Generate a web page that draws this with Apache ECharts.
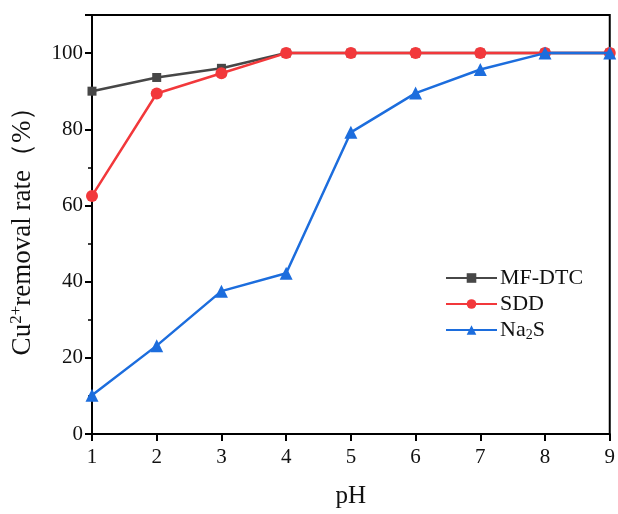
<!DOCTYPE html>
<html>
<head>
<meta charset="utf-8">
<script src="https://cdn.jsdelivr.net/npm/echarts@6/dist/echarts.min.js"></script>
<style>
  html, body { margin: 0; padding: 0; background: #fff; }
  #chart { width: 618px; height: 514px; }
</style>
</head>
<body>
<div id="chart"></div>
<script>
// pH values tested
const phValues = [1, 2, 3, 4, 5, 6, 7, 8, 9];
// Cu2+ removal rate (%) for each precipitant
const mfDtc = [90.0, 93.6, 96.0, 100, 100, 100, 100, 100, 100];
const sdd   = [62.5, 89.4, 94.7, 100, 100, 100, 100, 100, 100];
const na2s  = [10.2, 23.2, 37.5, 42.2, 79.2, 89.5, 95.7, 100, 100];

const seriesNames = ['MF-DTC', 'SDD', 'Na2S'];
const seriesData = [mfDtc, sdd, na2s];
const colors = ['#474747', '#f2383b', '#1c6ddd'];
const symbols = ['rect', 'circle', 'triangle'];
const symbolSizes = [9, 12, 13];

const font = '"Liberation Serif", "Times New Roman", serif';

const chart = echarts.init(document.getElementById('chart'), null, { renderer: 'canvas' });

chart.setOption({
  backgroundColor: '#fff',
  animation: false,
  grid: {
    left: 92, right: 6, top: 15, bottom: 80,
    show: true, borderColor: '#000', borderWidth: 2, backgroundColor: 'transparent'
  },
  legend: {
    left: 445, top: 267, orient: 'vertical', padding: 0,
    itemWidth: 51, itemHeight: 12, itemGap: 4,
    data: seriesNames,
    formatter: n => n === 'Na2S' ? 'Na{sub|2}S' : n,
    textStyle: {
      fontFamily: font, fontSize: 22, color: '#111', padding: [0, 0, 0, -2],
      rich: { sub: { fontFamily: font, fontSize: 14, color: '#111', verticalAlign: 'bottom', padding: [10, 0, 0, 0] } }
    }
  },
  xAxis: {
    type: 'value', min: 1, max: 9, interval: 1,
    name: 'pH', nameLocation: 'middle', nameGap: 50,
    nameTextStyle: { fontFamily: font, fontSize: 25, color: '#111' },
    axisLine: { lineStyle: { color: '#000', width: 2 } },
    axisTick: { inside: false, length: 7, lineStyle: { color: '#000', width: 2 } },
    axisLabel: { fontFamily: font, fontSize: 21, color: '#111', margin: 13 },
    splitLine: { show: false }
  },
  yAxis: {
    type: 'value', min: 0, max: 110, interval: 20,
    name: 'Cu{sup|2+}removal rate（%）', nameLocation: 'middle', nameGap: 55, nameRotate: 90,
    nameTextStyle: {
      fontFamily: font, fontSize: 27, color: '#111',
      rich: { sup: { fontFamily: font, fontSize: 17, color: '#111', verticalAlign: 'top', padding: [0, 0, 12, 0] } }
    },
    axisLine: { lineStyle: { color: '#000', width: 2 } },
    axisTick: { inside: false, length: 7, lineStyle: { color: '#000', width: 2 } },
    minorTick: { show: true, splitNumber: 2, length: 4, lineStyle: { color: '#000', width: 1.5 } },
    axisLabel: {
      fontFamily: font, fontSize: 21, color: '#111', margin: 9,
      formatter: v => (v > 100 ? '' : String(v))
    },
    splitLine: { show: false }
  },
  series: seriesNames.map((name, i) => ({
    name,
    type: 'line',
    data: phValues.map((x, j) => [x, seriesData[i][j]]),
    symbol: symbols[i],
    symbolSize: symbolSizes[i],
    itemStyle: { color: colors[i] },
    lineStyle: { color: colors[i], width: 2.5 },
    z: 2 + i
  }))
});
</script>
</body>
</html>
